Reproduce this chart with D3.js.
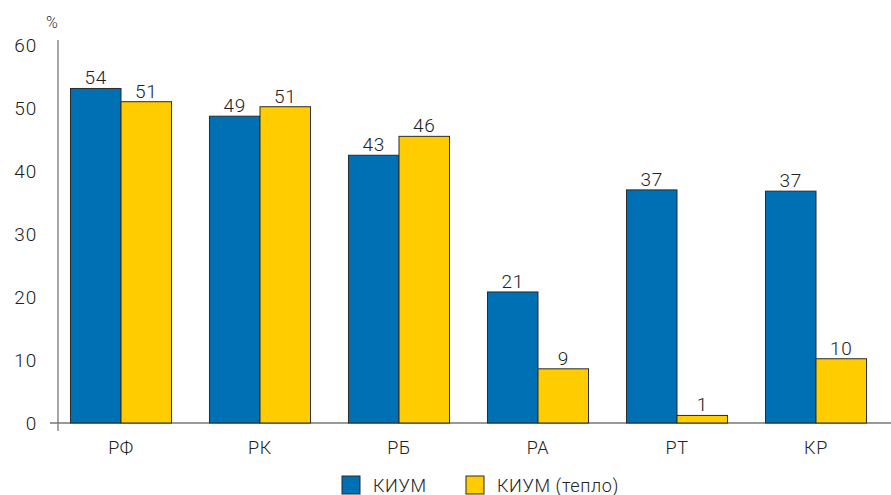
<!DOCTYPE html>
<html>
<head>
<meta charset="utf-8">
<script src="https://cdn.jsdelivr.net/npm/d3@7"></script>
<style>
  body { margin: 0; background: #fff; }
  svg { display: block; font-family: Roboto, "Liberation Sans", sans-serif; font-weight: 300; }
  .tick-label { font-size: 19px; fill: #222; letter-spacing: 0.8px; }
  .cat-label { font-size: 18px; fill: #222; letter-spacing: 0.6px; }
  .val-label { font-size: 19px; fill: #222; letter-spacing: 0.6px; }
</style>
</head>
<body>
<svg id="chart" width="891" height="495"></svg>
<script>
const CATEGORIES = ["РФ", "РК", "РБ", "РА", "РТ", "КР"];
const KIUM = [53.1, 48.7, 42.5, 20.8, 37.0, 36.8];
const KIUM_HEAT = [51.0, 50.2, 45.5, 8.6, 1.2, 10.2];
const KIUM_LABELS = [54, 49, 43, 21, 37, 37];
const KIUM_HEAT_LABELS = [51, 51, 46, 9, 1, 10];
const SERIES = ["КИУМ", "КИУМ (тепло)"];
const Y_TICKS = [0, 10, 20, 30, 40, 50, 60];
const COLORS = ["#0070b4", "#ffcc00"];

const SVG = d3.select("#chart");
const WIDTH = 891;
const MARGIN = { top: 45, left: 58, right: 6 };
const ZERO_Y = 423;

const SCALE_Y = d3.scaleLinear()
  .domain([0, 60])
  .range([ZERO_Y, MARGIN.top]);

const SCALE_X = d3.scaleBand()
  .domain(CATEGORIES)
  .range([51.5, 885.5])
  .paddingInner(0.273)
  .paddingOuter(0.1365);

const SCALE_SUB = d3.scaleBand()
  .domain(SERIES)
  .range([0, SCALE_X.bandwidth()]);

// axes lines
SVG.append("line")
  .attr("x1", 50).attr("x2", WIDTH)
  .attr("y1", ZERO_Y).attr("y2", ZERO_Y)
  .attr("stroke", "#777").attr("stroke-width", 1.3);

SVG.append("line")
  .attr("x1", MARGIN.left).attr("x2", MARGIN.left)
  .attr("y1", 40).attr("y2", ZERO_Y + 8)
  .attr("stroke", "#777").attr("stroke-width", 1.3);

SVG.append("text")
  .attr("x", 46).attr("y", 28)
  .attr("font-size", 16)
  .attr("fill", "#333")
  .text("%");

SVG.selectAll("text.tick-label")
  .data(Y_TICKS)
  .enter()
  .append("text")
  .attr("class", "tick-label")
  .attr("x", 37)
  .attr("y", d => SCALE_Y(d))
  .attr("dy", "0.35em")
  .attr("text-anchor", "end")
  .text(d => d);

const rows = CATEGORIES.map((c, i) => ({
  cat: c,
  vals: [
    { s: SERIES[0], v: KIUM[i], label: KIUM_LABELS[i], color: COLORS[0] },
    { s: SERIES[1], v: KIUM_HEAT[i], label: KIUM_HEAT_LABELS[i], color: COLORS[1] }
  ]
}));

const groups = SVG.selectAll("g.group")
  .data(rows)
  .enter()
  .append("g")
  .attr("class", "group")
  .attr("transform", d => `translate(${SCALE_X(d.cat)},0)`);

groups.selectAll("rect")
  .data(d => d.vals)
  .enter()
  .append("rect")
  .attr("x", d => SCALE_SUB(d.s))
  .attr("width", SCALE_SUB.bandwidth())
  .attr("y", d => SCALE_Y(d.v))
  .attr("height", d => ZERO_Y - SCALE_Y(d.v))
  .attr("fill", d => d.color)
  .attr("stroke", "#2a2a2a")
  .attr("stroke-width", 1);

groups.selectAll("text.val-label")
  .data(d => d.vals)
  .enter()
  .append("text")
  .attr("class", "val-label")
  .attr("x", d => SCALE_SUB(d.s) + SCALE_SUB.bandwidth() / 2)
  .attr("y", d => SCALE_Y(d.v) - 4)
  .attr("text-anchor", "middle")
  .text(d => d.label);

SVG.selectAll("text.cat-label")
  .data(CATEGORIES)
  .enter()
  .append("text")
  .attr("class", "cat-label")
  .attr("x", d => SCALE_X(d) + SCALE_X.bandwidth() / 2)
  .attr("y", 454)
  .attr("text-anchor", "middle")
  .text(d => d);

// legend
const LEGEND_X = [342, 466];
const legend = SVG.selectAll("g.legend")
  .data(SERIES)
  .enter()
  .append("g")
  .attr("class", "legend")
  .attr("transform", (d, i) => `translate(${LEGEND_X[i]},476)`);

legend.append("rect")
  .attr("width", 18).attr("height", 18)
  .attr("fill", (d, i) => COLORS[i])
  .attr("stroke", "#2a2a2a");

legend.append("text")
  .attr("x", 31).attr("y", 16)
  .attr("font-size", 18)
  .attr("letter-spacing", "0.6px")
  .attr("fill", "#222")
  .text(d => d);
</script>
</body>
</html>
